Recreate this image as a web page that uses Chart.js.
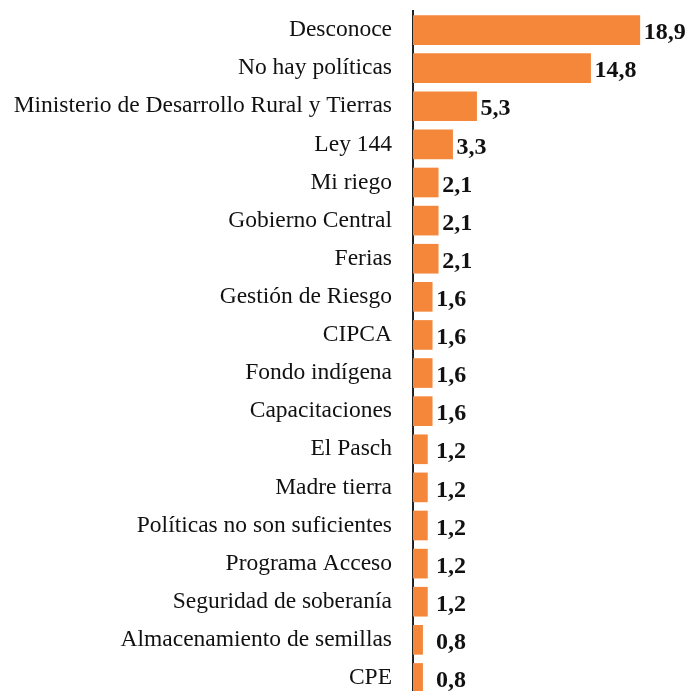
<!DOCTYPE html>
<html>
<head>
<meta charset="utf-8">
<script src="https://cdn.jsdelivr.net/npm/chart.js@4/dist/chart.umd.min.js"></script>
<style>
  html, body { margin: 0; padding: 0; background: #fff; overflow: hidden; }
  #wrap { width: 688px; height: 697px; }
</style>
</head>
<body>
<div id="wrap"><canvas id="barChart" width="688" height="697"></canvas></div>
<script>
let categories = ['Desconoce', 'No hay políticas', 'Ministerio de Desarrollo Rural y Tierras', 'Ley 144',
  'Mi riego', 'Gobierno Central', 'Ferias', 'Gestión de Riesgo', 'CIPCA', 'Fondo indígena',
  'Capacitaciones', 'El Pasch', 'Madre tierra', 'Políticas no son suficientes', 'Programa Acceso',
  'Seguridad de soberanía', 'Almacenamiento de semillas', 'CPE'];
let values = [18.9, 14.8, 5.3, 3.3, 2.1, 2.1, 2.1, 1.6, 1.6, 1.6, 1.6, 1.2, 1.2, 1.2, 1.2, 1.2, 0.8, 0.8];

let serif = "'Liberation Serif', 'DejaVu Serif', serif";

// writes each value with a comma at the end of its bar
let valueLabels = {
  id: 'valueLabels',
  afterDatasetsDraw(chart) {
    let ctx = chart.ctx;
    let left = chart.chartArea.left;
    ctx.save();
    ctx.font = 'bold 24px ' + serif;
    ctx.fillStyle = '#111';
    ctx.textAlign = 'left';
    ctx.textBaseline = 'middle';
    chart.getDatasetMeta(0).data.forEach((bar, i) => {
      let x = Math.max(bar.x + 4, left + 23);
      ctx.fillText(values[i].toFixed(1).replace('.', ','), x, bar.y + 3);
    });
    ctx.restore();
  }
};

let ctx = document.getElementById('barChart').getContext('2d');
let myChart = new Chart(ctx, {
  type: 'bar',
  data: {
    labels: categories,
    datasets: [{
      data: values,
      backgroundColor: '#F4873A',
      barThickness: 29
    }]
  },
  options: {
    indexAxis: 'y',
    responsive: false,
    animation: { duration: 0 },
    layout: { padding: { top: 11, right: 5, bottom: 0, left: 0 } },
    scales: {
      x: {
        min: 0,
        max: 22.5,
        display: false
      },
      y: {
        afterFit(axis) {
          axis.width = 413;
          axis.paddingTop = 0;
          axis.paddingBottom = 0;
        },
        grid: { display: false, drawTicks: false },
        border: { display: true, color: '#222', width: 2 },
        ticks: {
          padding: 21,
          color: '#111',
          font: { family: serif, size: 23.5 }
        }
      }
    },
    plugins: {
      legend: { display: false },
      tooltip: { enabled: false }
    }
  },
  plugins: [valueLabels]
});
</script>
</body>
</html>
